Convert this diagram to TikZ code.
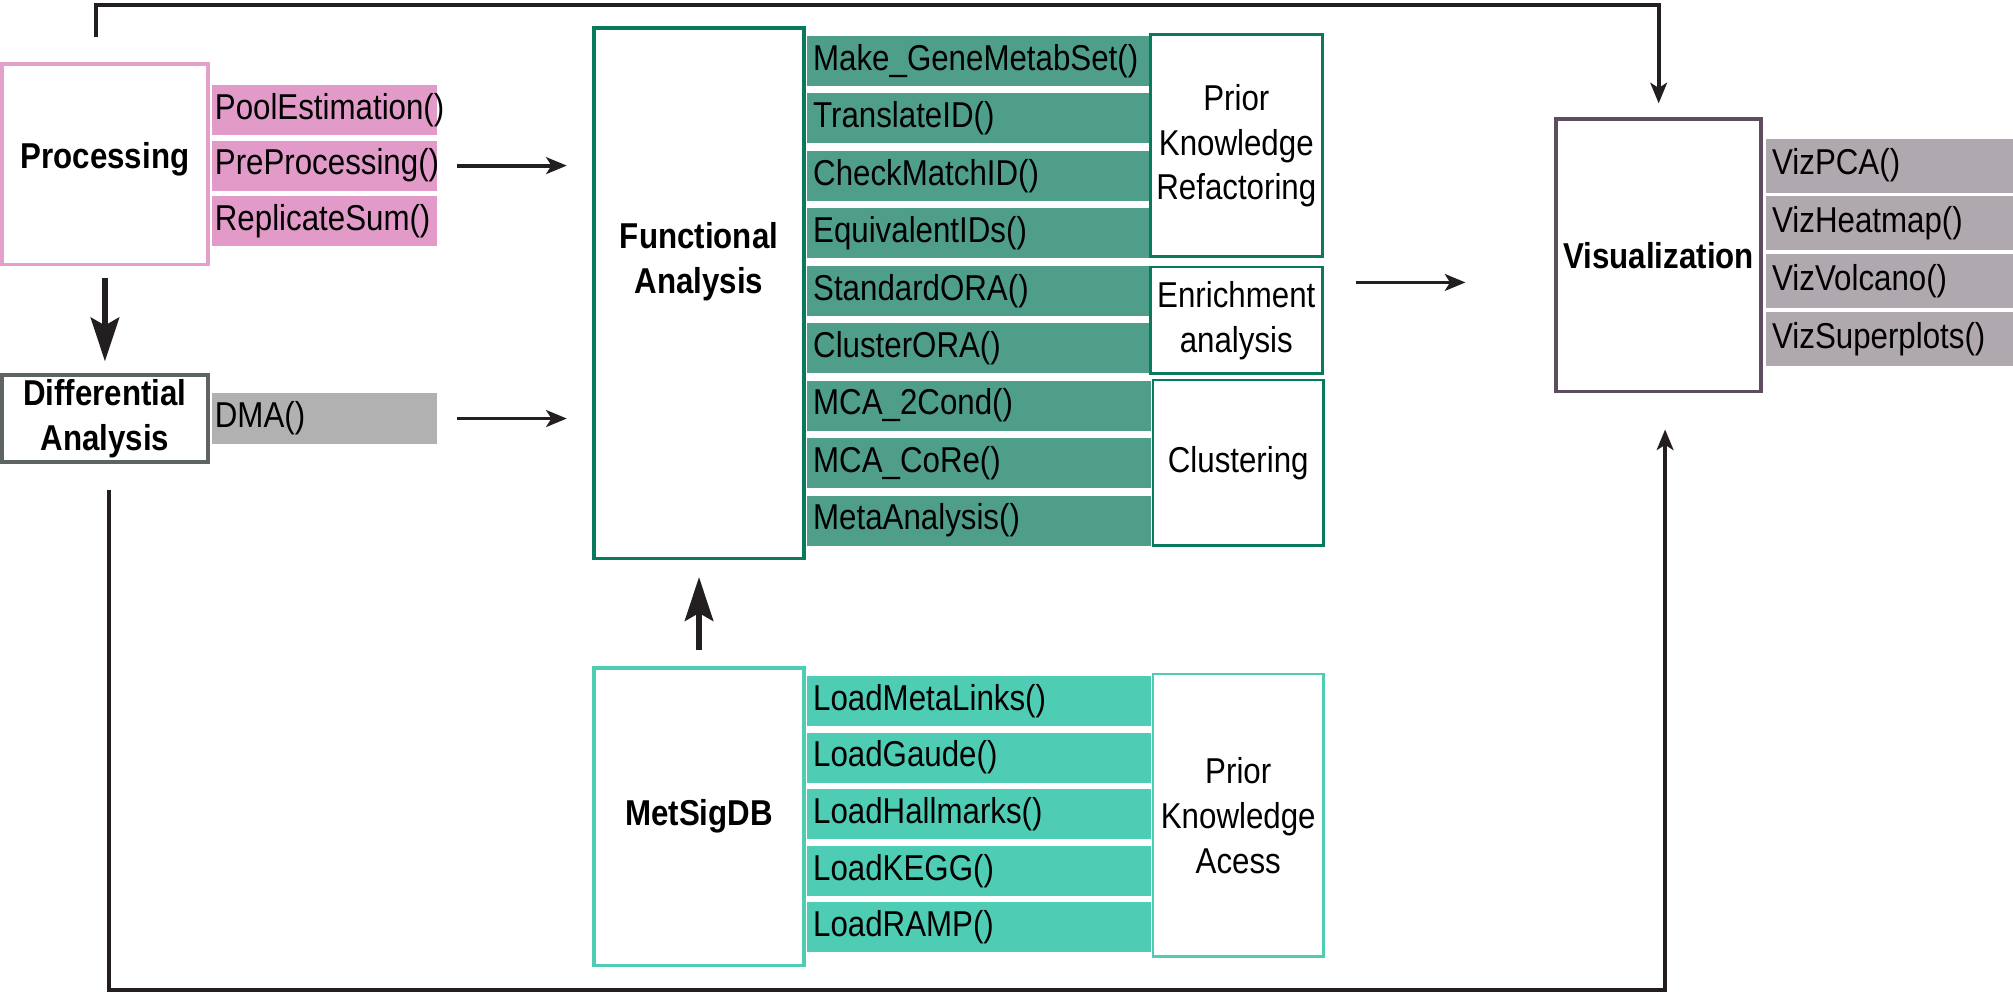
\documentclass[tikz,border=0pt]{standalone}
\usepackage{fontspec}
\setmainfont{Liberation Sans}[FakeStretch=0.87]
\usetikzlibrary{arrows.meta, positioning}

\definecolor{procline}{HTML}{E3A0CB}
\definecolor{procfill}{HTML}{E29BC8}
\definecolor{diffline}{HTML}{5E6462}
\definecolor{dmafill}{HTML}{B1B1B1}
\definecolor{faline}{HTML}{0A7A5F}
\definecolor{fafill}{HTML}{4E9E8A}
\definecolor{msline}{HTML}{4ECDB4}
\definecolor{msfill}{HTML}{4ECDB4}
\definecolor{vizline}{HTML}{5D4D5E}
\definecolor{vizfill}{HTML}{B0A8AF}
\definecolor{linkgray}{HTML}{231F20}

\newcommand{\diagfont}{\fontsize{14}{17.5}\selectfont}

\tikzset{
  mainbox/.style={draw=#1, line width=1.5pt, fill=white, inner sep=0pt, align=center, font=\diagfont\bfseries},
  sidebox/.style={draw=#1, line width=1pt, fill=white, inner sep=0pt, align=center, font=\diagfont},
  fnrow/.style={anchor=west, inner xsep=2.5pt, inner ysep=0pt, minimum height=19.5pt, align=left, font=\diagfont},
  procrow/.style={fnrow, fill=procfill, inner xsep=1pt, text width=85.5pt},
  farow/.style={fnrow, fill=fafill, text width=129pt},
  msrow/.style={fnrow, fill=msfill, text width=129pt},
  vizrow/.style={fnrow, fill=vizfill, text width=91.5pt, minimum height=21pt},
  link/.style={draw=linkgray, line width=1.5pt, -{Stealth[length=8pt, width=6.5pt, inset=2pt]}},
  bigarrow/.style={draw=linkgray, line width=2.5pt, -{Stealth[length=17pt, width=11pt, inset=3pt]}},
}

\begin{document}
\begin{tikzpicture}[x=0.5pt, y=-0.5pt]
	\useasboundingbox (0,0) rectangle (1568,777);

	% Main blocks
	\node[mainbox=procline, minimum width=80.25pt, minimum height=78pt] (proc) at (81.75,128) {};
	\node[font=\diagfont\bfseries] (proclabel) at ([yshift=2pt]proc.center) {Processing};
	\node[mainbox=diffline, minimum width=80.25pt, minimum height=34pt] (diff) at (81.75,326) {Differential\\Analysis};
	\node[mainbox=faline, minimum width=81.5pt, minimum height=206.5pt] (fa) at (544.5,228.5) {};
	\node[font=\diagfont\bfseries, align=center] (falabel) at ([yshift=12.5pt]fa.center) {Functional\\Analysis};
	\node[mainbox=msline, minimum width=81.5pt, minimum height=116pt] (msdb) at (544.5,636) {MetSigDB};
	\node[mainbox=vizline, minimum width=80pt, minimum height=106pt] (viz) at (1292,199) {Visualization};

	% Function rows
	\foreach \fn [count=\i] in {PoolEstimation(), PreProcessing(), ReplicateSum()}
		\node[procrow] (proc\i) at (165, {42+43.5*\i}) {\fn};
	\node[procrow, fill=dmafill] (dma) at (165,326) {DMA()};
	\foreach \fn [count=\i] in {Make\_GeneMetabSet(), TranslateID(), CheckMatchID(), EquivalentIDs(), StandardORA(), ClusterORA(), MCA\_2Cond(), MCA\_CoRe(), MetaAnalysis()}
		\node[farow] (fa\i) at (628, {2.75+44.75*\i}) {\fn};
	\foreach \fn [count=\i] in {LoadMetaLinks(), LoadGaude(), LoadHallmarks(), LoadKEGG(), LoadRAMP()}
		\node[msrow] (ms\i) at (628, {501.9+44.1*\i}) {\fn};
	\foreach \fn [count=\i] in {VizPCA(), VizHeatmap(), VizVolcano(), VizSuperplots()}
		\node[vizrow] (viz\i) at (1375, {84+45*\i}) {\fn};

	% Group boxes
	\node[sidebox=faline, minimum width=67pt, minimum height=86.5pt] (pkref) at (963,113.5) {Prior\\Knowledge\\Refactoring};
	\node[sidebox=faline, minimum width=67pt, minimum height=41.5pt] (enrich) at (963,249.5) {Enrichment\\analysis};
	\node[sidebox=faline, minimum width=66.5pt, minimum height=64.5pt] (clust) at (964.5,360.5) {Clustering};
	\node[sidebox=msline, minimum width=66.5pt, minimum height=110pt] (pkacc) at (964.5,635) {Prior\\Knowledge\\Acess};

	% Connections
	\coordinate (topturn) at (75,4);
	\coordinate (botturn) at (85,771);
	\coordinate (fa2viz) at (1100,220);
	\draw[bigarrow, shorten <=4.5pt, shorten >=4.5pt] (proc) -- (diff);
	\draw[link, shorten <=7.5pt, shorten >=10pt] (proc2.east) -- (proc2.east -| fa.west);
	\draw[link, shorten <=7.5pt, shorten >=10pt] (dma.east) -- (dma.east -| fa.west);
	\draw[bigarrow, shorten <=6pt, shorten >=6.5pt] (msdb) -- (fa);
	\draw[link, shorten <=12.5pt, shorten >=34.5pt] (enrich.east |- fa2viz) -- (viz.west |- fa2viz);
	\draw[link, shorten <=10pt, shorten >=5.5pt] (proc.north -| topturn) -- (topturn) -| (viz.north);
	\draw[link, shorten <=10pt, shorten >=14pt] (diff.south -| botturn) -- (botturn) -| ([xshift=2.5pt]viz.south);
\end{tikzpicture}
\end{document}
